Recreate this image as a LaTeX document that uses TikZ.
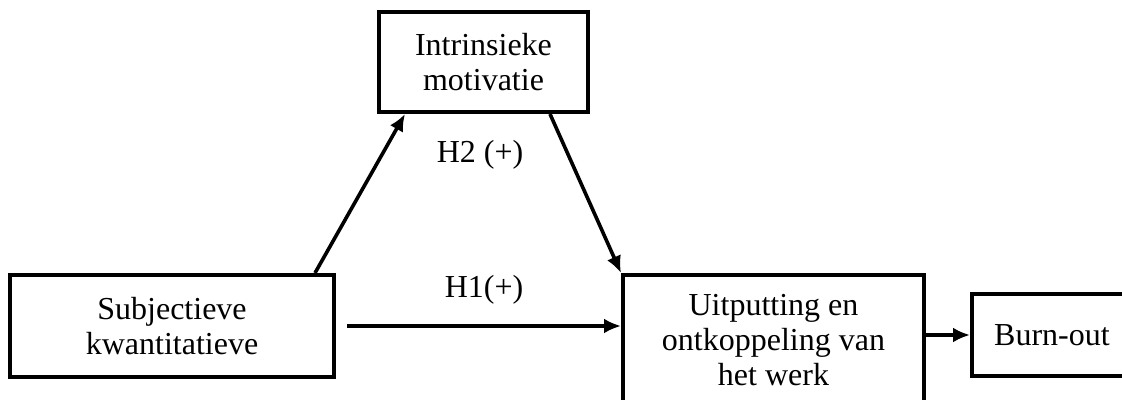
\documentclass[tikz,border=0pt]{standalone}
\usepackage{fontspec}
\setmainfont{Liberation Serif}
\usepackage{tikz}
\usetikzlibrary{arrows.meta,positioning}

\begin{document}
\begin{tikzpicture}[
    x=0.5pt, y=-0.5pt,
    construct/.style={rectangle, draw=black, line width=2pt, align=center,
                      inner sep=0pt, font=\fontsize{16}{17.5}\selectfont},
    arrow/.style={-{Latex[length=8.5pt,width=7.5pt]}, line width=1.8pt, color=black},
    hyp/.style={font=\fontsize{16}{17.5}\selectfont}
]
    \useasboundingbox (0,0) rectangle (1122,400);

    % Subjectieve kwantitatieve (left)
    \node[construct, minimum width=162pt, minimum height=51pt] (subj) at (172,326)
        {Subjectieve\\kwantitatieve};

    % Intrinsieke motivatie (top)
    \node[construct, minimum width=104.5pt, minimum height=50pt] (intr) at (483.5,62)
        {Intrinsieke\\motivatie};

    % Uitputting en ontkoppeling (right, cut off below)
    \node[construct, minimum width=150.5pt, minimum height=65pt] (uit) at (773.5,340)
        {Uitputting en\\ontkoppeling van\\het werk};

    % Burn-out (far right, cut off)
    \node[construct, minimum width=80pt, minimum height=41pt] (burn) at (1052,335)
        {Burn-out};

    % Hypothesis labels
    \node[hyp] (h2) at (480,155) {H2 (+)};
    \coordinate (h1start) at ([xshift=5.5pt]subj.east);

    % Arrows
    \draw[arrow] ([xshift=-10.5pt]subj.north east) -- ([xshift=14pt]intr.south west);
    \draw[arrow] ([xshift=-20pt]intr.south east) -- (uit.north west);
    \draw[arrow] (h1start) -- node[hyp, yshift=18pt] {H1(+)} (h1start -| uit.west);
    \draw[arrow] (burn.west -| uit.east) -- (burn.west);
\end{tikzpicture}
\end{document}
